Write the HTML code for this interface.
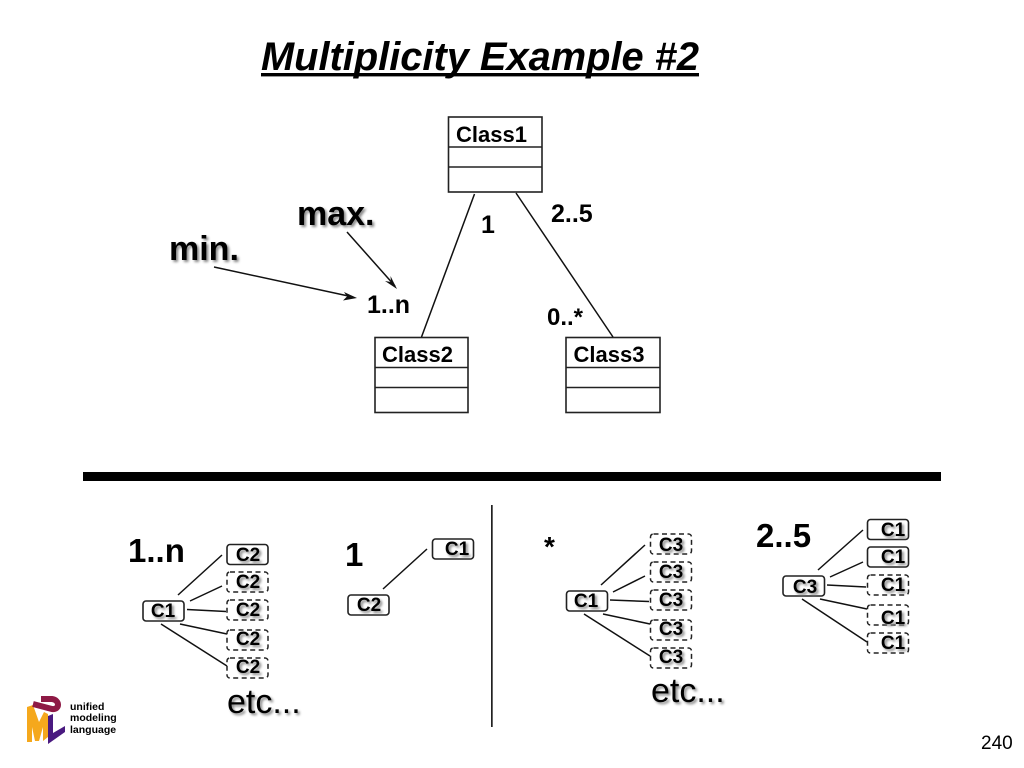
<!DOCTYPE html>
<html><head><meta charset="utf-8">
<style>
html,body{margin:0;padding:0;background:#fff;width:1024px;height:768px;overflow:hidden}
svg{display:block}
text{font-family:"Liberation Sans",sans-serif;fill:#000}
.b{font-weight:bold}
.s{filter:drop-shadow(2px 2px 1.2px #888)}
.c{font-weight:bold;font-size:19px;text-anchor:middle}
.k{fill:#fff;stroke:#222;stroke-width:1.6}
.d{fill:#fff;stroke:#222;stroke-width:1.5;stroke-dasharray:5 3.5}
.l{stroke:#111;stroke-width:1.5;fill:none}
.u{fill:#fff;stroke:#222;stroke-width:1.6}
</style></head><body>
<svg width="1024" height="768" viewBox="0 0 1024 768" xmlns="http://www.w3.org/2000/svg">
<text x="261" y="70" class="b" font-size="40" font-style="italic" textLength="438" lengthAdjust="spacingAndGlyphs">Multiplicity Example #2</text>
<rect x="261" y="73" width="438" height="3.4" fill="#000"/>

<!-- UML classes -->
<g class="u">
<rect x="448.500" y="117" width="93.500" height="75"/><path d="M448.500 147H542M448.500 167H542"/>
<rect x="375" y="337.500" width="93" height="75"/><path d="M375 367.500H468M375 387.500H468"/>
<rect x="566" y="337.500" width="94" height="75"/><path d="M566 367.500H660M566 387.500H660"/>
</g>
<text x="456" y="142" class="b" font-size="22">Class1</text>
<text x="382" y="362" class="b" font-size="22">Class2</text>
<text x="573.500" y="362" class="b" font-size="22">Class3</text>
<path class="l" d="M474.500 194L421.500 337M516 193L613 337"/>
<text x="481" y="233" class="b" font-size="25">1</text>
<text x="551" y="222" class="b" font-size="25">2..5</text>
<text x="547" y="325" class="b" font-size="24">0..*</text>
<text x="367" y="313" class="b" font-size="25">1..n</text>

<text x="297" y="225" class="b s" font-size="34">max.</text>
<text x="169" y="260" class="b s" font-size="34">min.</text>
<path class="l" d="M347 232L395 286M214 267L353 297"/>
<path d="M397 289L385 281L391 282L390.500 276Z" fill="#111"/>
<path d="M357 298L343 300.500L347 296.500L344 292Z" fill="#111"/>

<rect x="83" y="472" width="858" height="9" fill="#000"/>
<rect x="491" y="505" width="1.700" height="222" fill="#222"/>

<!-- 1..n -->
<text x="128" y="562" class="b" font-size="33">1..n</text>
<path class="l" d="M178 595L222 555M190 601L222 586M187 609.500L226 611.500M180 624L227 634M161 624L227 666"/>
<rect class="k" x="227" y="544.500" width="41" height="20" rx="3"/>
<rect class="d" x="227" y="572" width="41" height="20" rx="3"/>
<rect class="d" x="227" y="600" width="41" height="20" rx="3"/>
<rect class="d" x="227" y="630" width="41" height="20" rx="3"/>
<rect class="d" x="227" y="658" width="41" height="20" rx="3"/>
<rect class="k" x="143" y="601" width="41" height="20" rx="3"/>
<g class="c s">
<text x="248" y="561">C2</text><text x="248" y="588">C2</text><text x="248" y="616">C2</text><text x="248" y="645">C2</text><text x="248" y="673">C2</text><text x="163" y="617">C1</text>
</g>
<text x="227" y="713" class="s" font-size="34">etc...</text>

<!-- 1 -->
<text x="345" y="566" class="b" font-size="33">1</text>
<path class="l" d="M383 589L427 549"/>
<rect class="k" x="432.500" y="539" width="41" height="20" rx="3"/>
<rect class="k" x="348" y="595" width="41" height="20" rx="3"/>
<g class="c s"><text x="457" y="555">C1</text><text x="369" y="611">C2</text></g>

<!-- * -->
<text x="544" y="556" class="b" font-size="28">*</text>
<path class="l" d="M601 585L645 545M613 592L645 576M610 600L649 601.500M603 614L650 624M584 614L650 656"/>
<rect class="k" x="566.500" y="591" width="41" height="20" rx="3"/>
<rect class="d" x="650.500" y="534" width="41" height="20" rx="3"/>
<rect class="d" x="650.500" y="562" width="41" height="20" rx="3"/>
<rect class="d" x="650.500" y="590" width="41" height="20" rx="3"/>
<rect class="d" x="650.500" y="620" width="41" height="20" rx="3"/>
<rect class="d" x="650.500" y="648" width="41" height="20" rx="3"/>
<g class="c s">
<text x="671" y="551">C3</text><text x="671" y="578">C3</text><text x="671" y="606">C3</text><text x="671" y="635">C3</text><text x="671" y="663">C3</text><text x="586" y="607">C1</text>
</g>
<text x="651" y="702" class="s" font-size="34">etc...</text>

<!-- 2..5 -->
<text x="756" y="547" class="b" font-size="33">2..5</text>
<path class="l" d="M818 570L863 530M830 577L863 562M827 585L866 587M820 599L867 609M802 599L867 642"/>
<rect class="k" x="783" y="576" width="41.500" height="20" rx="3"/>
<rect class="k" x="867.500" y="519.500" width="41" height="20" rx="3"/>
<rect class="k" x="867.500" y="547" width="41" height="20" rx="3"/>
<rect class="d" x="867.500" y="575" width="41" height="20" rx="3"/>
<rect class="d" x="867.500" y="605" width="41" height="20" rx="3"/>
<rect class="d" x="867.500" y="633" width="41" height="20" rx="3"/>
<g class="c s">
<text x="893" y="536">C1</text><text x="893" y="563">C1</text><text x="893" y="591">C1</text><text x="893" y="624">C1</text><text x="893" y="649">C1</text><text x="805" y="593">C3</text>
</g>

<!-- logo -->
<polygon points="27,707 33,705 39,722 44,712 48,714 48,737 43,741 43,727 39,741 35,741 32,727 32,742 27,742" fill="#f5a81c"/>
<path d="M33 704L52 709C60 710 60 700 52 699L41 699" fill="none" stroke="#8e1a45" stroke-width="6"/>
<polygon points="48,716 53,714 53,733 65,726 65,732 48,744" fill="#4a1a80"/>
<text x="70" y="710" class="b" font-size="10.500" fill="#333">unified</text>
<text x="70" y="721" class="b" font-size="10.500" fill="#333">modeling</text>
<text x="70" y="733" class="b" font-size="10.500" fill="#333">language</text>

<text x="981" y="749" font-size="19">240</text>
</svg>
</body></html>
